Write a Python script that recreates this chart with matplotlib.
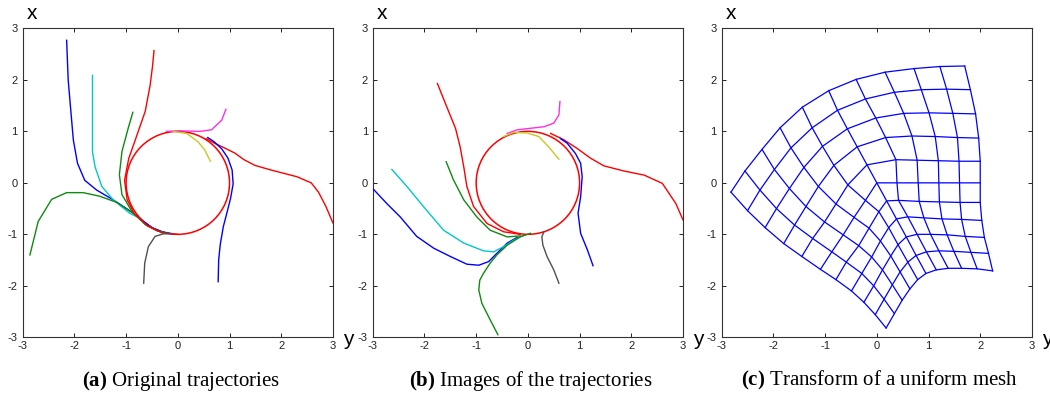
import numpy as np
import matplotlib
matplotlib.use('Agg')
import matplotlib.pyplot as plt
from matplotlib.patches import Circle

plt.rcParams['font.family'] = 'Liberation Sans'
plt.rcParams['axes.unicode_minus'] = False
plt.rcParams['mathtext.fontset'] = 'custom'
plt.rcParams['mathtext.rm'] = 'Liberation Serif'
plt.rcParams['mathtext.bf'] = 'Liberation Serif:bold'

# ---- data: trajectories as (y, x) points, y horizontal, x vertical ----
# (a) original trajectories
a_blue_left = [(-2.15, 2.77), (-2.12, 2.0), (-2.07, 1.41), (-2.02, 0.83), (-1.94, 0.38),
               (-1.80, 0.05), (-1.57, -0.14), (-1.25, -0.33), (-0.86, -0.59), (-0.70, -0.72),
               (-0.50, -0.87), (-0.30, -0.95), (-0.10, -0.99)]
a_cyan = [(-1.65, 2.09), (-1.65, 1.3), (-1.65, 0.60), (-1.60, 0.31), (-1.47, -0.07),
          (-1.25, -0.33), (-0.93, -0.59), (-0.75, -0.68)]
a_green_left = [(-2.86, -1.40), (-2.70, -0.75), (-2.44, -0.32), (-2.15, -0.19), (-1.83, -0.19),
                (-1.51, -0.26), (-1.18, -0.38), (-0.86, -0.59), (-0.61, -0.82), (-0.40, -0.93),
                (-0.20, -0.98)]
a_green_mid = [(-0.87, 1.37), (-0.96, 1.06), (-1.08, 0.61), (-1.13, 0.16), (-1.08, -0.23),
               (-0.89, -0.55), (-0.63, -0.81), (-0.40, -0.93)]
a_red_top = [(-0.46, 2.57), (-0.49, 2.26), (-0.535, 1.90), (-0.63, 1.39), (-0.80, 0.90),
             (-0.95, 0.47), (-1.03, 0.05), (-0.98, -0.33), (-0.84, -0.60), (-0.58, -0.84),
             (-0.31, -0.97), (0.0, -1.0)]
a_magenta = [(0.93, 1.43), (0.85, 1.22), (0.65, 1.03), (0.43, 1.0), (0.04, 1.01), (-0.22, 1.0)]
a_yellow = [(-0.09, 1.0), (0.17, 0.96), (0.39, 0.80), (0.52, 0.64), (0.63, 0.42)]
a_red_right = [(3.0, -0.78), (2.86, -0.45), (2.72, -0.18), (2.58, 0.0), (2.30, 0.12),
               (2.07, 0.18), (1.80, 0.25), (1.49, 0.34), (1.28, 0.45), (1.10, 0.58),
               (0.90, 0.68), (0.71, 0.77), (0.55, 0.86)]
a_blue_right = [(0.78, -1.92), (0.79, -1.5), (0.82, -1.20), (0.88, -0.85), (0.95, -0.58),
                (1.02, -0.30), (1.07, -0.02), (1.05, 0.25), (0.97, 0.48), (0.85, 0.66),
                (0.70, 0.80), (0.58, 0.88)]
a_gray = [(-0.66, -1.95), (-0.64, -1.56), (-0.57, -1.24), (-0.44, -1.04), (-0.28, -0.99),
          (-0.15, -0.99)]

# (b) images of the trajectories
b_red_top = [(-1.75, 1.93), (-1.57, 1.48), (-1.40, 1.06), (-1.31, 0.70), (-1.24, 0.31),
             (-1.18, -0.07), (-1.05, -0.46), (-0.79, -0.79), (-0.47, -0.95), (-0.15, -1.0)]
b_cyan = [(-2.63, 0.26), (-2.34, -0.07), (-2.02, -0.46), (-1.63, -0.92), (-1.24, -1.17),
          (-0.86, -1.32), (-0.66, -1.34), (-0.47, -1.24), (-0.27, -1.11), (-0.11, -1.03)]
b_blue_left = [(-3.0, -0.11), (-2.73, -0.40), (-2.47, -0.66), (-2.15, -1.04), (-1.82, -1.27),
               (-1.50, -1.43), (-1.18, -1.58), (-0.95, -1.60), (-0.76, -1.53), (-0.60, -1.37),
               (-0.40, -1.17), (-0.21, -1.06)]
b_green_mid = [(-1.58, 0.41), (-1.44, 0.06), (-1.24, -0.33), (-0.99, -0.66), (-0.73, -0.92),
               (-0.40, -1.05), (-0.15, -1.03)]
b_green_low = [(-0.58, -2.95), (-0.73, -2.66), (-0.89, -2.34), (-0.95, -2.08), (-0.93, -1.89),
               (-0.86, -1.76), (-0.73, -1.56), (-0.60, -1.40), (-0.40, -1.21), (-0.15, -1.05),
               (0.05, -0.98)]
b_magenta = [(0.62, 1.58), (0.60, 1.32), (0.50, 1.16), (0.31, 1.09), (0.05, 1.06),
             (-0.21, 1.03), (-0.40, 0.96)]
b_yellow = [(-0.47, 0.90), (-0.27, 0.98), (-0.02, 0.97), (0.21, 0.90), (0.40, 0.70), (0.60, 0.46)]
b_red_right = [(3.0, -0.72), (2.86, -0.40), (2.60, -0.01), (2.25, 0.15), (1.86, 0.23),
               (1.47, 0.33), (1.21, 0.48), (0.95, 0.67), (0.69, 0.84), (0.44, 0.96)]
b_blue_right = [(1.26, -1.61), (1.15, -1.30), (1.02, -0.98), (0.97, -0.59), (1.02, -0.27),
                (1.05, 0.12), (1.02, 0.38), (0.92, 0.57), (0.76, 0.77), (0.63, 0.86)]
b_gray = [(0.60, -1.95), (0.50, -1.69), (0.37, -1.43), (0.29, -1.21), (0.27, -1.05), (0.31, -0.95)]

# (c) transformed 11x11 mesh nodes, rows top->bottom, columns left->right
mesh_y = [
    [-2.82, -2.55, -2.22, -1.87, -1.44, -0.93, -0.40, 0.16, 0.72, 1.22, 1.70],
    [-2.50, -2.26, -1.98, -1.66, -1.25, -0.76, -0.22, 0.34, 0.86, 1.35, 1.81],
    [-2.16, -1.94, -1.69, -1.41, -1.05, -0.57, -0.02, 0.52, 1.01, 1.47, 1.91],
    [-1.80, -1.59, -1.37, -1.13, -0.83, -0.38, 0.17, 0.68, 1.13, 1.56, 1.97],
    [-1.45, -1.24, -1.01, -0.79, -0.56, -0.19, 0.37, 0.78, 1.19, 1.59, 2.00],
    [-1.09, -0.87, -0.65, -0.44, -0.22, 0.00, 0.39, 0.80, 1.20, 1.60, 2.00],
    [-0.79, -0.59, -0.35, -0.15, 0.04, 0.19, 0.42, 0.82, 1.21, 1.61, 2.00],
    [-0.49, -0.29, -0.10, 0.07, 0.23, 0.38, 0.60, 0.91, 1.26, 1.64, 2.03],
    [-0.25, -0.06, 0.11, 0.27, 0.41, 0.57, 0.78, 1.04, 1.36, 1.71, 2.08],
    [-0.03, 0.14, 0.30, 0.45, 0.60, 0.76, 0.96, 1.20, 1.49, 1.82, 2.16],
    [0.18, 0.34, 0.49, 0.64, 0.79, 0.95, 1.15, 1.38, 1.64, 1.94, 2.24],
]
mesh_x = [
    [-0.18, 0.23, 0.65, 1.07, 1.47, 1.79, 2.01, 2.15, 2.22, 2.26, 2.27],
    [-0.54, -0.14, 0.26, 0.68, 1.07, 1.41, 1.63, 1.76, 1.81, 1.82, 1.81],
    [-0.87, -0.50, -0.11, 0.30, 0.71, 1.05, 1.26, 1.35, 1.36, 1.35, 1.34],
    [-1.18, -0.82, -0.46, -0.07, 0.34, 0.70, 0.88, 0.91, 0.90, 0.88, 0.87],
    [-1.43, -1.08, -0.76, -0.41, -0.04, 0.35, 0.45, 0.44, 0.43, 0.42, 0.42],
    [-1.68, -1.34, -1.01, -0.67, -0.34, 0.00, 0.00, 0.00, 0.00, 0.00, 0.00],
    [-1.88, -1.54, -1.22, -0.88, -0.56, -0.35, -0.34, -0.36, -0.37, -0.38, -0.38],
    [-2.10, -1.76, -1.44, -1.13, -0.87, -0.70, -0.66, -0.68, -0.70, -0.71, -0.73],
    [-2.32, -2.00, -1.69, -1.42, -1.20, -1.05, -1.00, -1.00, -1.01, -1.04, -1.06],
    [-2.56, -2.26, -1.98, -1.73, -1.54, -1.41, -1.34, -1.32, -1.33, -1.35, -1.37],
    [-2.82, -2.54, -2.28, -2.06, -1.88, -1.76, -1.69, -1.66, -1.66, -1.67, -1.71],
]

ticks = [-3, -2, -1, 0, 1, 2, 3]
captions = ['(a)', '(b)', '(c)']
caption_texts = ['Original trajectories', 'Images of the trajectories',
                 'Transform of a uniform mesh']

BLUE = '#0000ff'
CYAN = '#00c8c8'
GREEN = '#108a10'
RED = '#ff0000'
MAGENTA = '#ff30e0'
YELLOW = '#c8c820'
GRAY = '#505050'

panel_a = [(a_blue_left, BLUE), (a_cyan, CYAN), (a_green_left, GREEN), (a_green_mid, GREEN),
           (a_red_top, RED), (a_magenta, MAGENTA), (a_yellow, YELLOW), (a_red_right, RED),
           (a_blue_right, BLUE), (a_gray, GRAY)]
panel_b = [(b_blue_left, BLUE), (b_cyan, CYAN), (b_green_mid, GREEN), (b_green_low, GREEN),
           (b_red_top, RED), (b_magenta, MAGENTA), (b_yellow, YELLOW), (b_red_right, RED),
           (b_blue_right, BLUE), (b_gray, GRAY)]

fig = plt.figure(figsize=(10.5, 3.97), dpi=100)
lefts = [0.0216, 0.355, 0.6873]
axes = [fig.add_axes([l, 0.1504, 0.2955, 0.778]) for l in lefts]

for ax, cap, txt in zip(axes, captions, caption_texts):
    ax.set_xlim(-3, 3)
    ax.set_ylim(-3, 3)
    ax.set_xticks(ticks)
    ax.set_yticks(ticks)
    ax.tick_params(direction='in', length=3, width=0.7, labelsize=8, top=True, right=True,
                   colors='#222222')
    ax.tick_params(axis='x', pad=2.5)
    ax.tick_params(axis='y', pad=3.5)
    for s in ax.spines.values():
        s.set_linewidth(0.8)
        s.set_color('#333333')
    ax.text(0.014, 1.03, 'x', transform=ax.transAxes, fontsize=15, ha='left', va='baseline')
    ax.text(1.031, -0.025, 'y', transform=ax.transAxes, fontsize=15, ha='left', va='baseline',
            clip_on=False)
    ax.text(0.51, -0.14, r'$\mathbf{' + cap + '}$ ' + txt, transform=ax.transAxes,
            fontsize=15, ha='center', va='center', family='Liberation Serif')

for ax, curves in [(axes[0], panel_a), (axes[1], panel_b)]:
    ax.add_patch(Circle((0, 0), 1.0, fill=False, color=RED, lw=1.1, zorder=2))
    for pts, col in curves:
        arr = np.array(pts)
        ax.plot(arr[:, 0], arr[:, 1], color=col, lw=1.0, zorder=3)

my = np.array(mesh_y)
mx = np.array(mesh_x)
ax = axes[2]
for i in range(my.shape[0]):
    ax.plot(my[i], mx[i], color=BLUE, lw=0.9)
for j in range(my.shape[1]):
    ax.plot(my[:, j], mx[:, j], color=BLUE, lw=0.9)

fig.savefig('out.png', dpi=100)
